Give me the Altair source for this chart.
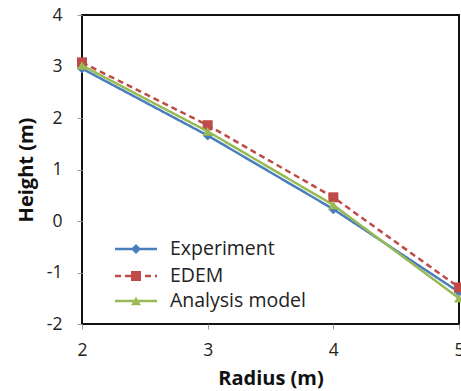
import altair as alt
import pandas as pd

# Radial profile of heap height
radius = [2, 3, 4, 5]
experiment = [2.96, 1.66, 0.23, -1.38]
edem = [3.08, 1.86, 0.46, -1.29]
analysis = [3.02, 1.74, 0.31, -1.50]

series_names = ["Experiment", "EDEM", "Analysis model"]
series_values = [experiment, edem, analysis]
colors = ["#4A7EBB", "#BE4B48", "#98B954"]
shapes = ["diamond", "square", "triangle-up"]
dashes = [[1, 0], [6, 4], [1, 0]]

FONT = "Open Sans"

rows = []
for name, vals in zip(series_names, series_values):
    for r, h in zip(radius, vals):
        rows.append({"series": name, "radius": r, "height": h})
df = pd.DataFrame(rows)

x_enc = alt.X(
    "radius:Q",
    scale=alt.Scale(domain=[2, 5], nice=False, zero=False),
    axis=alt.Axis(
        title="Radius (m)", values=[2, 3, 4, 5], labelExpr="toString(datum.value)",
        labelFontSize=17.5, titleFontSize=20, titleFontWeight="bold",
        labelColor="#222", titleColor="#111", labelPadding=12, titlePadding=10,
        domain=False, grid=False, tickColor="#999", tickSize=5,
        labelFlush=False, labelFont=FONT, titleFont=FONT,
    ),
)
y_enc = alt.Y(
    "height:Q",
    scale=alt.Scale(domain=[-2, 4], nice=False, zero=False),
    axis=alt.Axis(
        title="Height (m)", values=[-2, -1, 0, 1, 2, 3, 4], labelExpr="toString(datum.value)",
        labelFontSize=17.5, titleFontSize=20, titleFontWeight="bold",
        labelColor="#222", titleColor="#111", labelPadding=15, titlePadding=10,
        domain=False, grid=False, tickColor="#999", tickSize=5,
        labelFont=FONT, titleFont=FONT,
    ),
)

layers = []
for name, col, shp, dash in zip(series_names, colors, shapes, dashes):
    sub = df[df["series"] == name]
    base = alt.Chart(sub)
    layers.append(
        base.mark_line(color=col, strokeWidth=2.5, strokeDash=dash).encode(x=x_enc, y=y_enc)
    )
    layers.append(
        base.mark_point(shape=shp, filled=True, color=col, size=100, opacity=1).encode(x=x_enc, y=y_enc)
    )

# Legend drawn inside the plot area
legend_x0, legend_x1, legend_mark_x, legend_text_x = 33, 75, 54, 88
legend_rows_y = [234, 261, 286]
for i, (name, col, shp, dash) in enumerate(zip(series_names, colors, shapes, dashes)):
    ly = legend_rows_y[i]
    lb = alt.Chart(pd.DataFrame({"series": [name]}))
    layers.append(
        lb.mark_rule(color=col, strokeWidth=2.5, strokeDash=dash).encode(
            x=alt.value(legend_x0), x2=alt.value(legend_x1), y=alt.value(ly)
        )
    )
    layers.append(
        lb.mark_point(shape=shp, filled=True, color=col, size=100, opacity=1).encode(
            x=alt.value(legend_mark_x), y=alt.value(ly)
        )
    )
    layers.append(
        lb.mark_text(align="left", baseline="middle", fontSize=19.5, font=FONT, color="#222").encode(
            x=alt.value(legend_text_x), y=alt.value(ly), text="series:N"
        )
    )

chart = (
    alt.layer(*layers)
    .properties(
        width=377, height=309,
        autosize=alt.AutoSizeParams(type="none"),
        padding={"left": 82, "top": 15, "right": 2, "bottom": 67},
        background="white",
    )
    .configure_view(stroke="#111", strokeWidth=2)
)

chart.save("out.html", embed_options={"renderer": "svg", "actions": False})
